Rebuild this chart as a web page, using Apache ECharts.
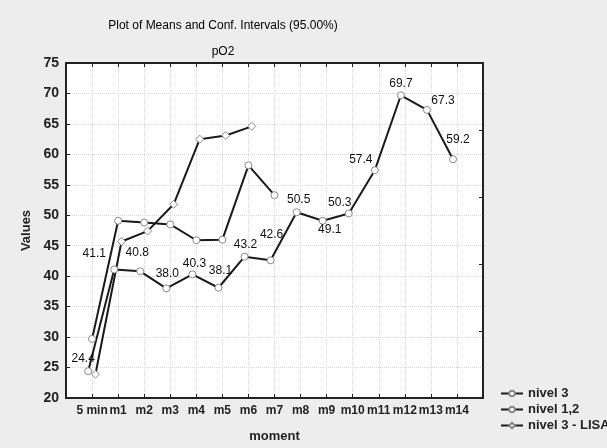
<!DOCTYPE html>
<html>
<head>
<meta charset="utf-8">
<script src="https://cdn.jsdelivr.net/npm/echarts@6/dist/echarts.min.js"></script>
<style>html,body{margin:0;padding:0;background:#ededed;}#c{width:607px;height:448px;}</style>
</head>
<body>
<div id="c"></div>
<script>
const categories = ['5 min','m1','m2','m3','m4','m5','m6','m7','m8','m9','m10','m11','m12','m13','m14'];
const nivel3 = [24.4, 41.1, 40.8, 38.0, 40.3, 38.1, 43.2, 42.6, 50.5, 49.1, 50.3, 57.4, 69.7, 67.3, 59.2];
const nivel12 = [29.7, 49.1, 48.8, 48.5, 45.9, 46.0, 58.2, 53.3];
const nivel3Lisa = [23.9, 45.7, 47.4, 51.8, 62.5, 63.1, 64.6];
const seriesNames = ['nivel 3', 'nivel 1,2', 'nivel 3 - LISA'];

// style: horizontal dodge of each series (category units) and label offsets (px)
const dodge = [-0.15, 0, 0.13];
const labelOffsets = [[-5,-13],[-20,-16],[-3,-19],[1,-15],[2,-11],[2,-17],[1,-12],[1,-26],[2,-13],[7,9],[-9,-11],[-14,-11],[0,-12],[16,-9],[5,-20]];

const font = 'Arial, "Liberation Sans", sans-serif';
const symStyle = {color:'#fff', borderColor:'#8a8a8a', borderWidth:1};
const lineStyle = {color:'#1a1a1a', width:2};

function mk(name, vals, k, symbol, withLabels){
  return {
    name: name, type:'line', xAxisIndex:0, yAxisIndex:0,
    symbol: symbol, symbolSize: symbol==='diamond'?8:7,
    itemStyle: symStyle, lineStyle: lineStyle, color:'#1a1a1a',
    emphasis:{disabled:true}, animation:false,
    data: vals.map((v,i)=>{
      const d = {value:[i+dodge[k], v]};
      if (withLabels) d.label = {show:true, position:'inside', offset:labelOffsets[i]};
      return d;
    }),
    label: {fontFamily:font, fontSize:12, color:'#111', formatter:(p)=>p.value[1].toFixed(1)}
  };
}

const chart = echarts.init(document.getElementById('c'));
chart.setOption({
  backgroundColor:'#ededed',
  animation:false,
  title:[
    {text:'Plot of Means and Conf. Intervals (95.00%)', left:218, top:15, textAlign:'center',
     textStyle:{fontFamily:font, fontSize:12, fontWeight:'normal', color:'#000'}},
    {text:'pO2', left:218, top:41, textAlign:'center',
     textStyle:{fontFamily:font, fontSize:12, fontWeight:'normal', color:'#000'}}
  ],
  grid:{left:66, right:124, top:63, bottom:48, show:true, backgroundColor:'#fff', borderColor:'#222', borderWidth:2},
  legend:{
    orient:'vertical', left:495, top:382, itemWidth:22, itemHeight:7, itemGap:3,
    textStyle:{fontFamily:font, fontSize:13, fontWeight:'bold', color:'#222'},
    data: seriesNames
  },
  xAxis:[
    {type:'value', min:-1, max:15, interval:1, position:'bottom',
     name:'moment', nameLocation:'middle', nameGap:32,
     nameTextStyle:{fontFamily:font, fontSize:13, fontWeight:'bold', color:'#222'},
     axisLine:{show:true, onZero:false, lineStyle:{color:'#222', width:2}},
     axisTick:{show:true, inside:true, length:4, lineStyle:{color:'#222'}},
     axisLabel:{fontFamily:font, fontSize:12, fontWeight:'bold', color:'#222', margin:7,
       formatter:(v)=> (v>=0 && v<categories.length) ? categories[v] : ''},
     splitLine:{show:true, lineStyle:{color:'#d6d6d6', type:'dotted'}}},
    {type:'value', min:-1, max:15, interval:1, position:'top',
     axisLine:{show:true, onZero:false, lineStyle:{color:'#222', width:2}},
     axisTick:{show:true, inside:true, length:4, lineStyle:{color:'#222'}},
     axisLabel:{show:false}, splitLine:{show:false}}
  ],
  yAxis:[
    {type:'value', min:20, max:75, interval:5, position:'left',
     name:'Values', nameLocation:'middle', nameGap:30, nameRotate:90,
     nameTextStyle:{fontFamily:font, fontSize:13, fontWeight:'bold', color:'#222'},
     axisLine:{show:true, onZero:false, lineStyle:{color:'#222', width:2}},
     axisTick:{show:true, inside:true, length:4, lineStyle:{color:'#222'}},
     axisLabel:{fontFamily:font, fontSize:14, fontWeight:'bold', color:'#222', margin:7},
     splitLine:{show:true, lineStyle:{color:'#d6d6d6', type:'dotted'}}},
    {type:'value', min:0, max:5, interval:1, position:'right',
     axisLine:{show:true, onZero:false, lineStyle:{color:'#222', width:2}},
     axisTick:{show:true, inside:true, length:4, lineStyle:{color:'#222'}},
     axisLabel:{show:false}, splitLine:{show:false}}
  ],
  series:[
    mk(seriesNames[0], nivel3, 0, 'circle', true),
    mk(seriesNames[1], nivel12, 1, 'circle', false),
    mk(seriesNames[2], nivel3Lisa, 2, 'diamond', false)
  ]
});
</script>
</body>
</html>
